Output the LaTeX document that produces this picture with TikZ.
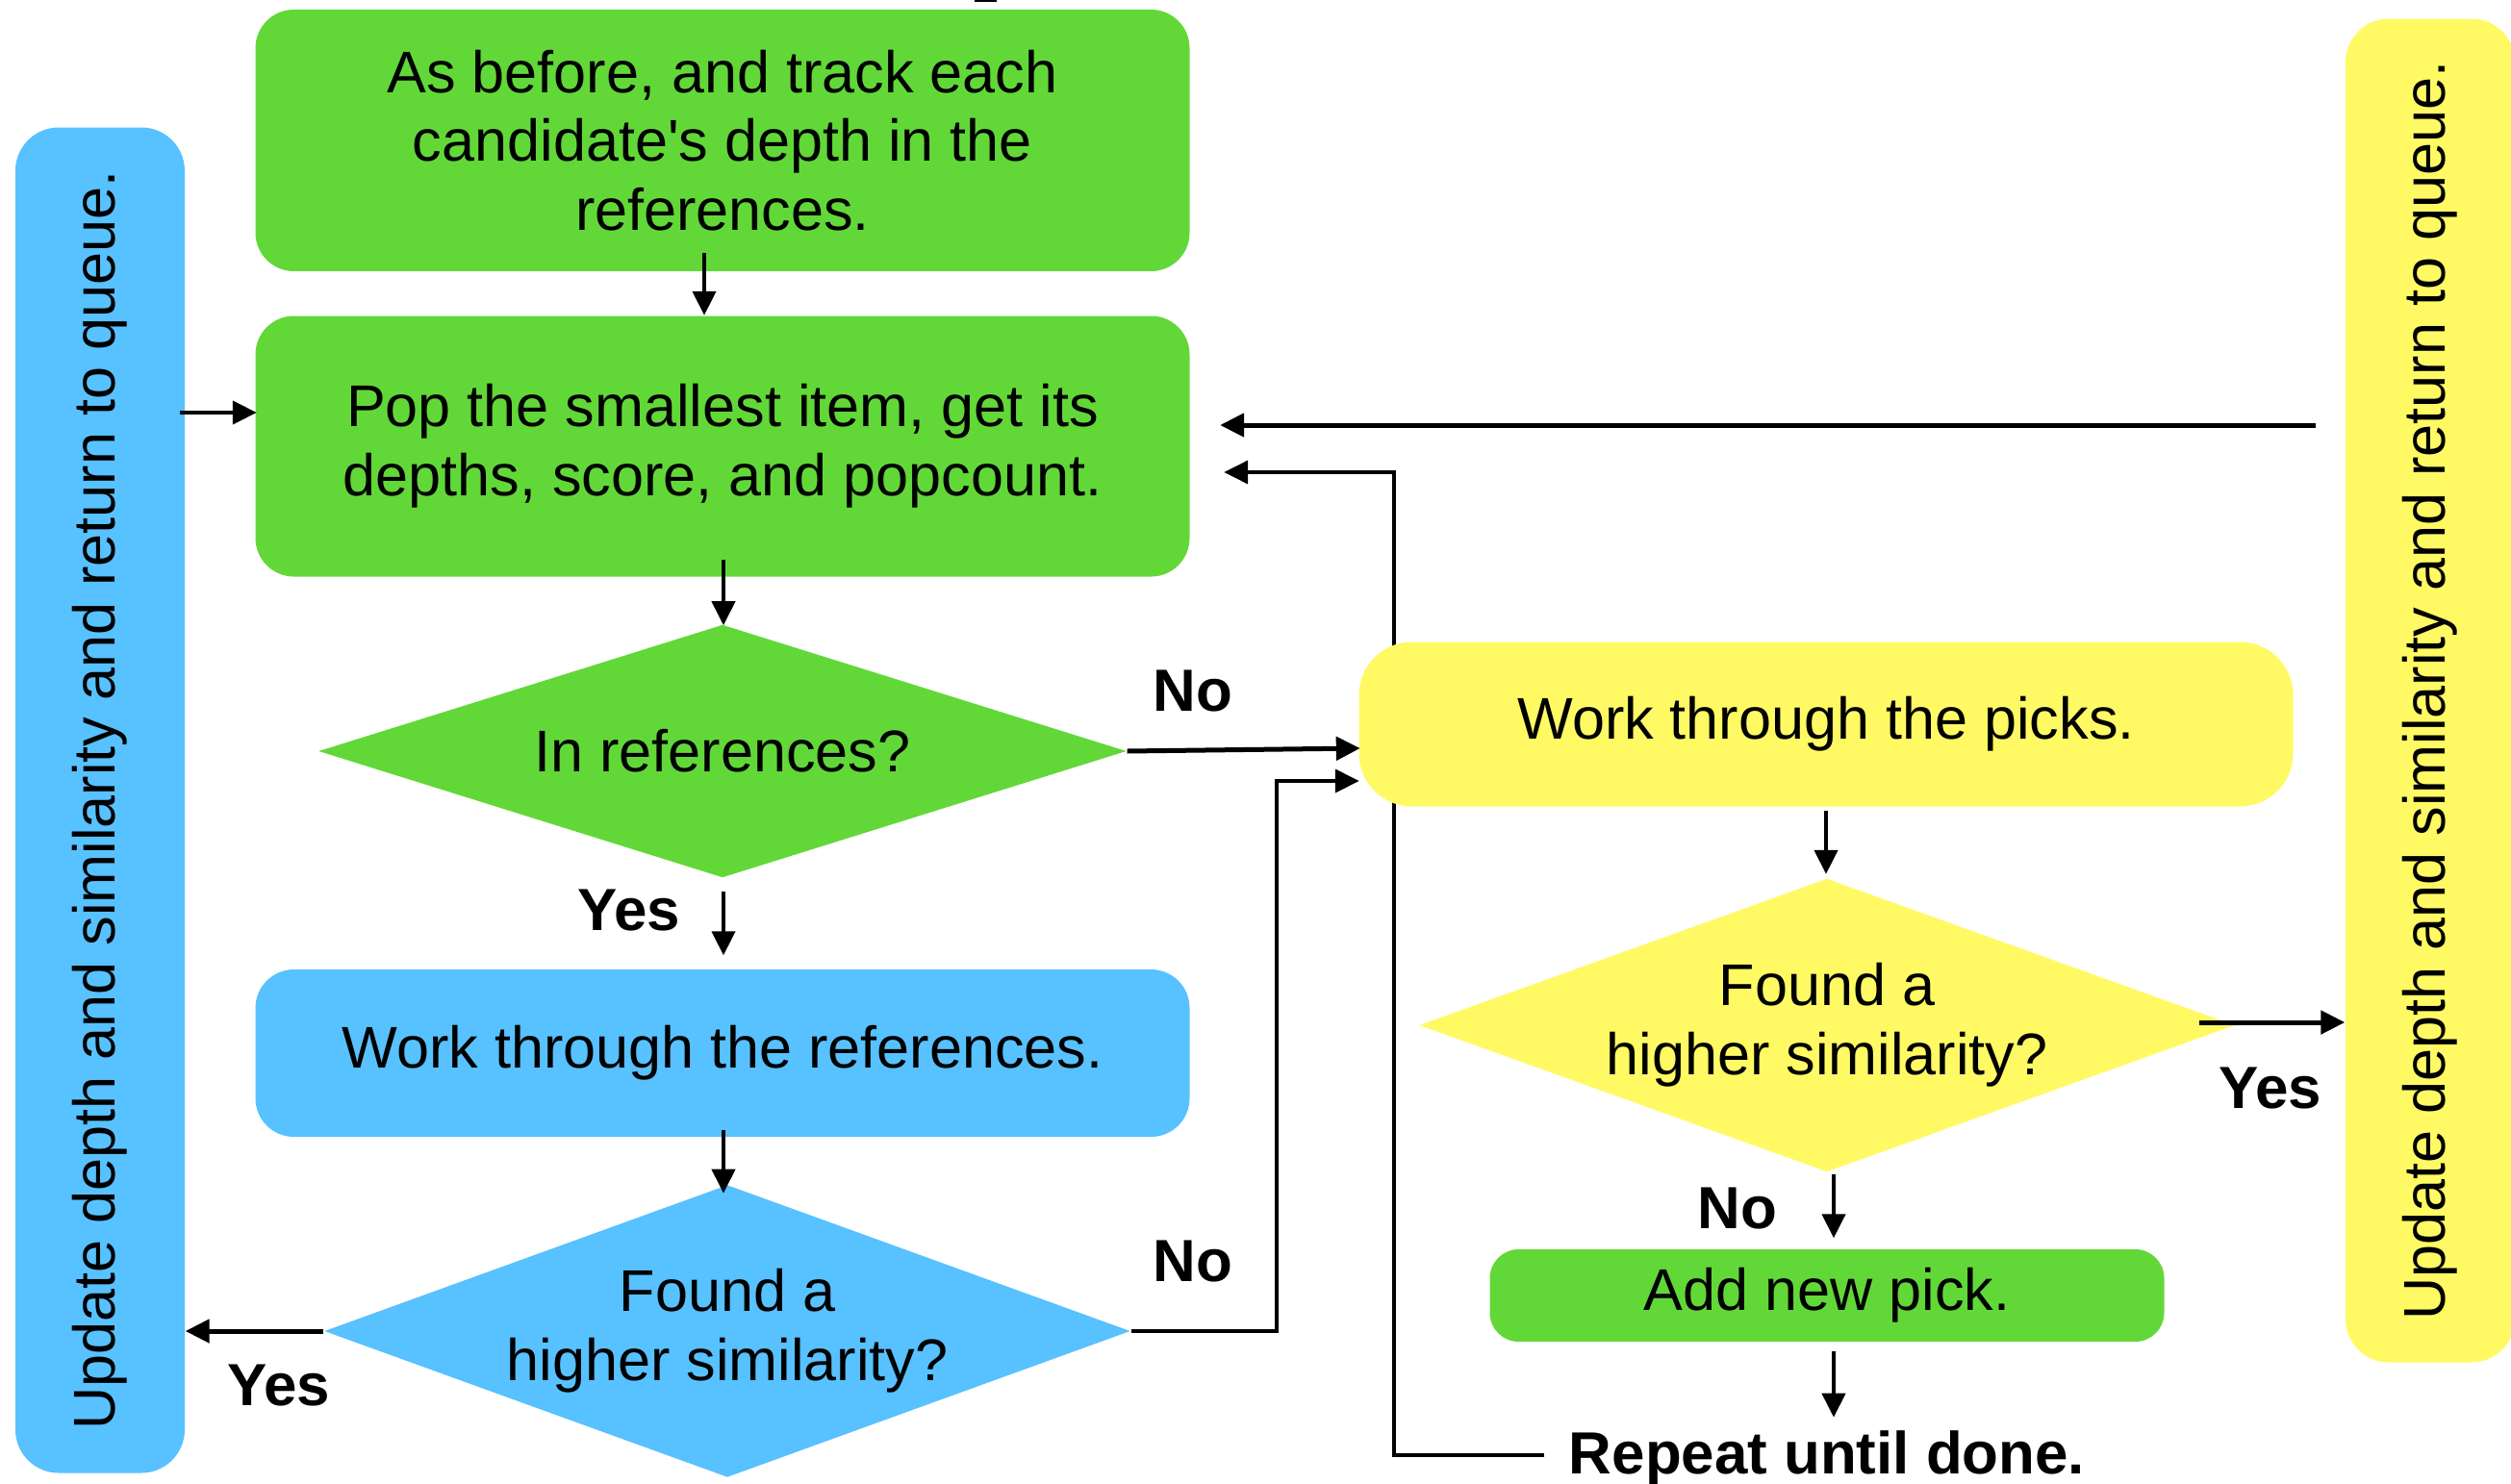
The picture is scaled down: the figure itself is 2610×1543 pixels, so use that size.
\documentclass[tikz,border=0pt]{standalone}
\usepackage{fontspec}
\setmainfont{Liberation Sans}
\usetikzlibrary{shapes.geometric,arrows.meta,calc,backgrounds}
\definecolor{cgreen}{RGB}{98,216,56}
\definecolor{cblue}{RGB}{88,193,255}
\definecolor{cyellow}{RGB}{255,250,100}
\tikzset{
  box/.style={rectangle, rounded corners=4mm, inner sep=0pt, align=center,
    font=\fontsize{17.4pt}{20.4pt}\selectfont},
  dia/.style={diamond, inner sep=0pt, align=center,
    font=\fontsize{17.4pt}{20.4pt}\selectfont},
  lbl/.style={inner sep=0pt, font=\fontsize{17.6pt}{20.4pt}\selectfont\bfseries},
  arr/.style={line width=0.42mm, -{Triangle[length=2.5mm,width=2.4mm]}},
  arrb/.style={line width=0.5mm, -{Triangle[length=2.5mm,width=2.4mm]}},
  loopl/.style={line width=0.36mm, -{Triangle[length=2.5mm,width=2.4mm]}},
}
\begin{document}
\begin{tikzpicture}[x=0.1mm,y=-0.1mm]
\path[use as bounding box] (0,0) rectangle (2610,1543);

% boxes
\node[box, fill=cgreen, minimum width=97.1mm, minimum height=27.2mm] (top) at (751,146)
  {As before, and track each\\candidate\textquotesingle s depth in the\\references.};
\node[box, fill=cgreen, minimum width=97.1mm, minimum height=27.1mm] (pop) at (751,464)
  {Pop the smallest item, get its\\depths, score, and popcount.};
\node[dia, aspect=3.19, fill=cgreen, minimum width=84mm, minimum height=26.3mm] (d1) at (751,781)
  {In references?};
\node[box, fill=cblue, minimum width=97.1mm, minimum height=17.4mm] (refs) at (751,1095)
  {Work through the references.};
\node[dia, aspect=2.76, fill=cblue, minimum width=83.8mm, minimum height=30.4mm] (d2) at (756,1384)
  {Found a\\higher similarity?};
\node[box, fill=cblue, rounded corners=4.5mm, minimum width=17.6mm, minimum height=139.9mm] (lbox) at (104,832)
  {\rotatebox{90}{Update depth and similarity and return to queue.}};
\node[box, fill=cyellow, rounded corners=4.5mm, minimum width=17.6mm, minimum height=139.7mm] (rbox) at (2526,718)
  {\rotatebox{90}{Update depth and similarity and return to queue.}};
\node[box, fill=cyellow, rounded corners=5.5mm, minimum width=97.1mm, minimum height=17.1mm] (picks) at (1898,753)
  {Work through the picks.};
\node[dia, aspect=2.78, fill=cyellow, minimum width=84.8mm, minimum height=30.5mm] (d3) at (1899,1066)
  {Found a\\higher similarity?};
\node[box, fill=cgreen, rounded corners=3mm, minimum width=70.1mm, minimum height=9.6mm] (add) at (1899,1347)
  {Add new pick.};
\node[lbl] (rep) at (1899,1516) {Repeat until done.};

% labels
\node[lbl] (no1) at (1240,719) {No};
\node[lbl] (yes1) at (654,947) {Yes};
\node[lbl] (no2) at (1240,1312) {No};
\node[lbl] (yes2) at (290,1441) {Yes};
\node[lbl] (yes3) at (2360,1132) {Yes};
\node[lbl] (no3) at (1806,1257) {No};

% small mark at the top edge
\fill (1013,0) rectangle (1036,2);

% connectors
\draw[arr] ($(top.south)+(-19,-20)$) -- ($(pop.north)+(-19,0)$);
\draw[arr] ($(lbox.east |- pop.west)+(-6,-35)$) -- ($(pop.west)+(2,-35)$);
\draw[arr] ($(pop.south)+(1,-18)$) -- ($(pop.south)+(1,50)$);
\draw[arrb] (d1.east) -- ($(d1.east -| picks.west)+(2,-3)$);
\draw[arr] ($(d1.south)+(1,14)$) -- ($(refs.north)+(1,-14)$);
\draw[arr] ($(refs.south)+(1,-8)$) -- ($(refs.south)+(1,58)$);
\draw[arrb] (d2.west) -- (d2.west -| lbox.east);
\draw[loopl] (d2.east) -| ($(picks.west)+(-85,59)$) -- ($(picks.west)+(1,59)$);
\draw[arrb] ($(rbox.west |- pop.east)+(-30,-22)$) -- ($(pop.east)+(31,-22)$);
\draw[arr] ($(picks.south)+(0,4)$) -- ($(d3.north)+(-1,-4)$);
\draw[arrb] ($(d3.east |- 0,1063)+(-38,0)$) -- (rbox.west |- 0,1063);
\draw[arr] ($(d3.south)+(7,2)$) -- ($(add.north)+(7,-11)$);
\draw[arr] ($(add.south)+(7,9)$) -- ($(add.south)+(7,78)$);
\begin{pgfonlayer}{background}
\draw[loopl] ($(rep.west)+(-25,-3)$) -| ($(pop.east)+(212,27)$) -- ($(pop.east)+(35,27)$);
\end{pgfonlayer}
\end{tikzpicture}
\end{document}
